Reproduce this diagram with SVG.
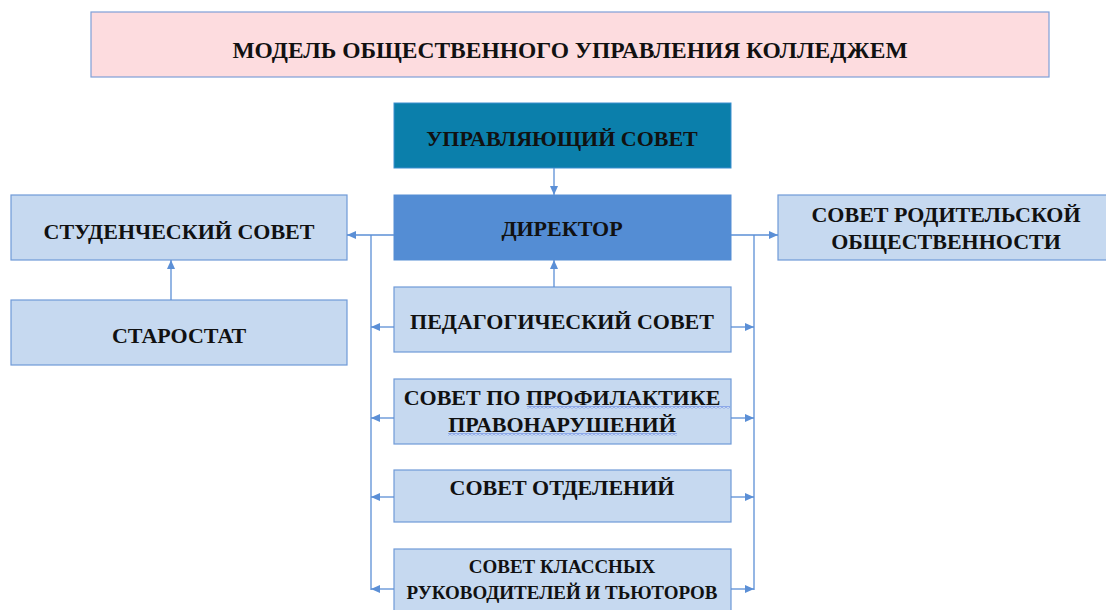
<svg xmlns="http://www.w3.org/2000/svg" width="1106" height="610" viewBox="0 0 1106 610">
<defs>
<marker id="ah" markerWidth="10" markerHeight="10" refX="9" refY="5" orient="auto" markerUnits="userSpaceOnUse">
<path d="M0,1 L9,5 L0,9 Z" fill="#5b8fd6"/>
</marker>
<pattern id="wave" x="0" y="0" width="4" height="3" patternUnits="userSpaceOnUse">
<path d="M0,0.5 L2,2.5 L4,0.5" fill="none" stroke="#4a6ee0" stroke-width="0.9"/>
</pattern>
<style>
.box{fill:#c6d9f0;stroke:#6f9ad8;stroke-width:1.2}
.c{fill:none;stroke:#5b8fd6;stroke-width:1.3}
</style>
</defs>
<rect width="1106" height="610" fill="#ffffff"/>
<g id="title">
<rect x="91" y="12" width="958" height="65" fill="#fddcdf" stroke="#7f9fd8" stroke-width="1.2"/>
<text x="570" y="58" font-family="Liberation Serif" font-weight="bold" font-size="23.5" fill="#111" text-anchor="middle">МОДЕЛЬ ОБЩЕСТВЕННОГО УПРАВЛЕНИЯ КОЛЛЕДЖЕМ</text>
</g>
<g id="upravl">
<rect x="394" y="103" width="337" height="65" fill="#0b7fab" stroke="#3c8fd0" stroke-width="1"/>
<text x="562" y="146" font-family="Liberation Serif" font-weight="bold" font-size="22" fill="#111" text-anchor="middle">УПРАВЛЯЮЩИЙ СОВЕТ</text>
</g>
<g id="director">
<rect x="394" y="195" width="337" height="65" fill="#548dd4" stroke="#548dd4" stroke-width="1"/>
<text x="562" y="236" font-family="Liberation Serif" font-weight="bold" font-size="22" fill="#111" text-anchor="middle">ДИРЕКТОР</text>
</g>
<g id="student">
<rect class="box" x="11" y="195" width="336" height="65"/>
<text x="179" y="239" font-family="Liberation Serif" font-weight="bold" font-size="22" fill="#111" text-anchor="middle">СТУДЕНЧЕСКИЙ СОВЕТ</text>
</g>
<g id="starostat">
<rect class="box" x="11" y="300" width="336" height="65"/>
<text x="179" y="343" font-family="Liberation Serif" font-weight="bold" font-size="22" fill="#111" text-anchor="middle">СТАРОСТАТ</text>
</g>
<g id="parents">
<rect class="box" x="778" y="195" width="340" height="65"/>
<text x="946" y="222" font-family="Liberation Serif" font-weight="bold" font-size="22" fill="#111" text-anchor="middle">СОВЕТ РОДИТЕЛЬСКОЙ</text>
<text x="946" y="249" font-family="Liberation Serif" font-weight="bold" font-size="22" fill="#111" text-anchor="middle">ОБЩЕСТВЕННОСТИ</text>
</g>
<g id="ped">
<rect class="box" x="394" y="287" width="337" height="65"/>
<text x="562" y="329" font-family="Liberation Serif" font-weight="bold" font-size="22" fill="#111" text-anchor="middle">ПЕДАГОГИЧЕСКИЙ СОВЕТ</text>
</g>
<g id="prof">
<rect class="box" x="394" y="379" width="337" height="65"/>
<text x="562" y="405" font-family="Liberation Serif" font-weight="bold" font-size="22" fill="#111" text-anchor="middle">СОВЕТ ПО ПРОФИЛАКТИКЕ</text>
<text x="562" y="432" font-family="Liberation Serif" font-weight="bold" font-size="22" fill="#111" text-anchor="middle">ПРАВОНАРУШЕНИЙ</text>
<rect x="527" y="406" width="203" height="3" fill="url(#wave)"/>
<rect x="448" y="433" width="229" height="3" fill="url(#wave)"/>
</g>
<g id="otdel">
<rect class="box" x="394" y="470" width="337" height="52"/>
<text x="562" y="495" font-family="Liberation Serif" font-weight="bold" font-size="22" fill="#111" text-anchor="middle">СОВЕТ ОТДЕЛЕНИЙ</text>
</g>
<g id="klass">
<rect class="box" x="394" y="549" width="337" height="70"/>
<text x="562" y="573" font-family="Liberation Serif" font-weight="bold" font-size="19" fill="#111" text-anchor="middle">СОВЕТ КЛАССНЫХ</text>
<text x="562" y="599" font-family="Liberation Serif" font-weight="bold" font-size="19" fill="#111" text-anchor="middle">РУКОВОДИТЕЛЕЙ И ТЬЮТОРОВ</text>
</g>
<g id="connectors">
<line class="c" x1="554" y1="168" x2="554" y2="195" marker-end="url(#ah)"/>
<line class="c" x1="554" y1="287" x2="554" y2="260" marker-end="url(#ah)"/>
<line class="c" x1="171" y1="300" x2="171" y2="260" marker-end="url(#ah)"/>
<line class="c" x1="394" y1="235" x2="347" y2="235" marker-end="url(#ah)"/>
<line class="c" x1="731" y1="235" x2="778" y2="235" marker-end="url(#ah)"/>
<line class="c" x1="371" y1="235" x2="371" y2="590"/>
<line class="c" x1="754" y1="235" x2="754" y2="590"/>
<line class="c" x1="394" y1="327" x2="371" y2="327" marker-end="url(#ah)"/>
<line class="c" x1="394" y1="418" x2="371" y2="418" marker-end="url(#ah)"/>
<line class="c" x1="394" y1="497" x2="371" y2="497" marker-end="url(#ah)"/>
<line class="c" x1="394" y1="589" x2="371" y2="589" marker-end="url(#ah)"/>
<line class="c" x1="731" y1="327" x2="754" y2="327" marker-end="url(#ah)"/>
<line class="c" x1="731" y1="418" x2="754" y2="418" marker-end="url(#ah)"/>
<line class="c" x1="731" y1="497" x2="754" y2="497" marker-end="url(#ah)"/>
<line class="c" x1="731" y1="589" x2="754" y2="589" marker-end="url(#ah)"/>
</g>
</svg>
